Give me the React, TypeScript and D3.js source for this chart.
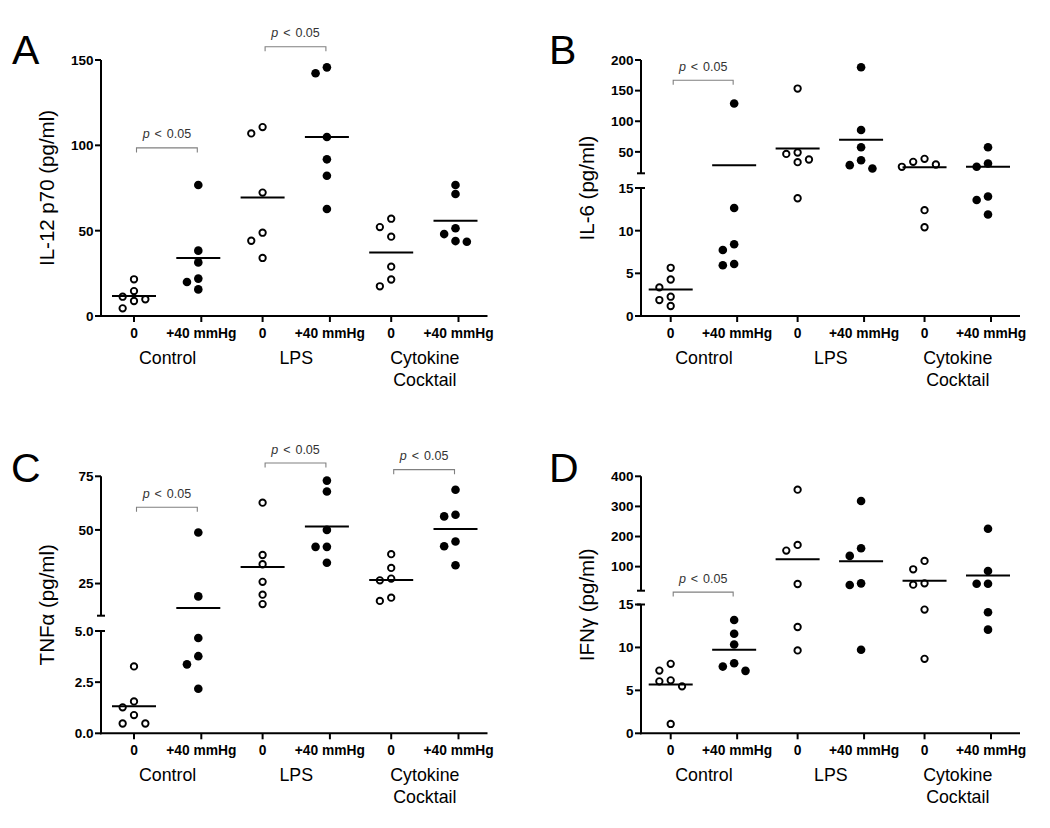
import React from "react";
import * as d3 from "d3";

// ---------- categories & labels ----------
const conditions = ["0", "+40 mmHg"];
const groupLabels = [["Control"], ["LPS"], ["Cytokine", "Cocktail"]];
const pLabel = "< 0.05";

// ---------- Panel A: IL-12 p70 (pg/ml) ----------
const il12Control0 = [21.5, 14.6, 11.3, 9.8, 8.8, 4.5];
const il12Control40 = [76.8, 38.3, 31.4, 21.9, 19.9, 15.6];
const il12Lps0 = [110.7, 107.0, 72.3, 48.8, 44.1, 34.0];
const il12Lps40 = [145.7, 142.2, 104.9, 91.8, 82.2, 62.7];
const il12Cyto0 = [57.0, 52.1, 46.5, 28.9, 21.4, 17.4];
const il12Cyto40 = [76.8, 71.5, 51.4, 48.0, 43.9, 43.5];
const il12Ticks = [0, 50, 100, 150];
const il12Brackets = [{ group: 0, level: 98.5 }, { group: 1, level: 157.8 }];

// ---------- Panel B: IL-6 (pg/ml) ----------
const il6Control0 = [5.65, 4.28, 3.35, 2.26, 1.87, 1.17];
const il6Control40 = [129, 12.65, 8.4, 7.74, 6.1, 5.95];
const il6Lps0 = [153.4, 48.9, 46.7, 37.5, 33.2, 13.8];
const il6Lps40 = [188.1, 85.7, 57.5, 36.4, 28.3, 22.9];
const il6Cyto0 = [38.6, 33.7, 29.4, 25.6, 12.4, 10.4];
const il6Cyto40 = [57.5, 31.0, 25.6, 14.0, 13.6, 11.9];
const il6LowerTicks = [0, 5, 10, 15];
const il6UpperTicks = [50, 100, 150, 200];
const il6Brackets = [{ group: 0, level: 167 }];

// ---------- Panel C: TNFα (pg/ml) ----------
const tnfControl0 = [3.27, 1.56, 1.27, 0.89, 0.48, 0.48];
const tnfControl40 = [48.8, 19.0, 4.66, 3.77, 3.37, 2.18];
const tnfLps0 = [62.7, 38.3, 34.0, 25.8, 19.8, 15.4];
const tnfLps40 = [73.0, 67.9, 50.0, 42.1, 42.1, 34.7];
const tnfCyto0 = [38.7, 32.3, 27.3, 26.5, 18.4, 16.9];
const tnfCyto40 = [68.7, 57.1, 56.3, 44.6, 42.4, 33.5];
const tnfLowerTicks = [0, 2.5, 5];
const tnfUpperTicks = [25, 50, 75];
const tnfBrackets = [
  { group: 0, level: 60.6 },
  { group: 1, level: 81.2 },
  { group: 2, level: 78.1 },
];

// ---------- Panel D: IFNγ (pg/ml) ----------
const ifnControl0 = [8.09, 7.3, 6.17, 6.05, 5.47, 1.09];
const ifnControl40 = [13.2, 11.6, 10.35, 8.16, 7.77, 7.27];
const ifnLps0 = [355.6, 172.2, 153.3, 42.2, 12.38, 9.65];
const ifnLps40 = [317.8, 161.1, 135.6, 44.4, 38.9, 9.73];
const ifnCyto0 = [118.9, 91.1, 44.4, 40.0, 14.41, 8.67];
const ifnCyto40 = [225.6, 85.6, 43.3, 43.3, 14.1, 12.07];
const ifnLowerTicks = [0, 5, 10, 15];
const ifnUpperTicks = [100, 200, 300, 400];
const ifnBrackets = [{ group: 0, level: 19.5 }];

// ---------- styles ----------
const FONT = "'Liberation Sans', Arial, Helvetica, sans-serif";
const DOT_R_OPEN = 3.2;
const DOT_R_FILLED = 4.3;
const SWARM_UNIT = 5.67;
const SWARM_MIN = 8.6;
const MEAN_HALF = 22;
const TICK_LEN = 6;

type Seg = {
  domain: [number, number];
  range: [number, number];
  ticks: number[];
  fmt: (v: number) => string;
};

type PanelProps = {
  letter: string;
  letterX: number;
  letterY: number;
  axisX: number;
  y0: number;
  colRange: [number, number];
  segs: Seg[];
  series: number[][];
  brackets: { group: number; level: number }[];
  ylabel: React.ReactNode;
};

function swarmOffsets(ys: number[]): number[] {
  const placed: { x: number; y: number }[] = [];
  const cands = [0, -2, 2, -1, 1, -3, 3, -4, 4, -5, 5];
  return ys.map((y) => {
    let chosen = 0;
    for (const c of cands) {
      const x = c * SWARM_UNIT;
      if (placed.every((p) => Math.hypot(p.x - x, p.y - y) >= SWARM_MIN)) {
        chosen = x;
        break;
      }
    }
    placed.push({ x: chosen, y });
    return chosen;
  });
}

function Panel(props: PanelProps) {
  const { letter, letterX, letterY, axisX, y0, colRange, segs, series, brackets, ylabel } = props;
  const cols = d3.scalePoint<number>().domain(d3.range(6)).range(colRange);
  const scales = segs.map((s) => d3.scaleLinear().domain(s.domain).range(s.range));
  const y = (v: number) => {
    if (segs.length === 1) return scales[0](v);
    const lo = segs[0], up = segs[1];
    if (v <= lo.domain[1]) return scales[0](v);
    if (v >= up.domain[0]) return scales[1](v);
    const t = (v - lo.domain[1]) / (up.domain[0] - lo.domain[1]);
    return d3.interpolateNumber(lo.range[1], up.range[0])(t);
  };
  const xEnd = colRange[1] + 32;
  const tickShift = (i: number) => (i % 2 === 1 ? 3 : 0);
  const tickX = (i: number) => (cols(i) as number) + tickShift(i);
  const yTop = segs[segs.length - 1].range[1];
  const ylabelY = (yTop + y0) / 2;

  return (
    <g>
      <text x={letterX} y={letterY} fontSize={41} fontFamily={FONT} fill="#000">
        {letter}
      </text>
      {/* y-axis label */}
      <text
        transform={`translate(${axisX - 47},${ylabelY}) rotate(-90)`}
        textAnchor="middle"
        fontSize={20.5}
        fontFamily={FONT}
        fill="#000"
      >
        {ylabel}
      </text>
      {/* y-axis segments */}
      {segs.map((s, si) => (
        <g key={"seg" + si}>
          <line x1={axisX} x2={axisX} y1={s.range[0] + (si === 0 ? 1 : 0)} y2={s.range[1]} stroke="#000" strokeWidth={2} />
          {segs.length > 1 && si === 0 && (
            <line x1={axisX - 4} x2={axisX + 4} y1={s.range[1]} y2={s.range[1]} stroke="#000" strokeWidth={2} />
          )}
          {segs.length > 1 && si === 1 && (
            <line x1={axisX - 4} x2={axisX + 4} y1={s.range[0]} y2={s.range[0]} stroke="#000" strokeWidth={2} />
          )}
          {s.ticks.map((t) => (
            <g key={t}>
              <line x1={axisX - TICK_LEN} x2={axisX} y1={scales[si](t)} y2={scales[si](t)} stroke="#000" strokeWidth={2} />
              <text
                x={axisX - TICK_LEN - 1.5}
                y={scales[si](t)}
                dy="0.36em"
                textAnchor="end"
                fontSize={13.5}
                fontWeight="bold"
                fontFamily={FONT}
                fill="#000"
              >
                {s.fmt(t)}
              </text>
            </g>
          ))}
        </g>
      ))}
      {/* x-axis */}
      <line x1={axisX - 1} x2={xEnd} y1={y0} y2={y0} stroke="#000" strokeWidth={2} />
      {d3.range(6).map((i) => (
        <g key={"xt" + i}>
          <line x1={tickX(i)} x2={tickX(i)} y1={y0} y2={y0 + TICK_LEN} stroke="#000" strokeWidth={2} />
          <text
            x={tickX(i)}
            y={y0 + 22}
            textAnchor="middle"
            fontSize={13.8}
            fontWeight="bold"
            fontFamily={FONT}
            fill="#000"
          >
            {conditions[i % 2]}
          </text>
        </g>
      ))}
      {groupLabels.map((lines, g) => (
        <text
          key={"gl" + g}
          x={(tickX(2 * g) + tickX(2 * g + 1)) / 2}
          y={y0 + 48}
          textAnchor="middle"
          fontSize={17.8}
          fontFamily={FONT}
          fill="#000"
        >
          {lines.map((l, li) => (
            <tspan key={li} x={(tickX(2 * g) + tickX(2 * g + 1)) / 2} dy={li === 0 ? 0 : 22}>
              {l}
            </tspan>
          ))}
        </text>
      ))}
      {/* data */}
      {series.map((vals, i) => {
        const cx = cols(i) as number;
        const ys = vals.map((v) => y(v));
        const offs = swarmOffsets(ys);
        const filled = i % 2 === 1;
        const m = d3.mean(vals) as number;
        return (
          <g key={"s" + i}>
            {vals.map((v, k) =>
              filled ? (
                <circle key={k} cx={cx + offs[k]} cy={ys[k]} r={DOT_R_FILLED} fill="#000" />
              ) : (
                <circle key={k} cx={cx + offs[k]} cy={ys[k]} r={DOT_R_OPEN} fill="#fff" stroke="#000" strokeWidth={1.9} />
              )
            )}
            <line x1={cx - MEAN_HALF} x2={cx + MEAN_HALF} y1={y(m)} y2={y(m)} stroke="#000" strokeWidth={2} />
          </g>
        );
      })}
      {/* significance brackets */}
      {brackets.map((b, k) => {
        const xl = (cols(2 * b.group) as number) + 2.5;
        const xr = (cols(2 * b.group + 1) as number) - 1;
        const yb = y(b.level);
        return (
          <g key={"br" + k}>
            <path
              d={`M${xl},${yb + 4.5}V${yb}H${xr}V${yb + 4.5}`}
              fill="none"
              stroke="#808080"
              strokeWidth={1.1}
            />
            <text
              x={(xl + xr) / 2}
              y={yb - 9.5}
              textAnchor="middle"
              fontSize={12.5}
              wordSpacing={1.5}
              fontFamily={FONT}
              fill="#333"
            >
              <tspan fontStyle="italic">p</tspan>
              {" " + pLabel}
            </text>
          </g>
        );
      })}
    </g>
  );
}

const intFmt = (v: number) => String(v);
const oneDec = (v: number) => v.toFixed(1);

export default function App() {
  return (
    <svg
      width={1050}
      height={828}
      viewBox="0 0 1050 828"
      style={{ position: "absolute", left: 0, top: 0, background: "#fff" }}
    >
      <rect width={1050} height={828} fill="#fff" />
      <Panel
        letter="A"
        letterX={12}
        letterY={64}
        axisX={101}
        y0={316}
        colRange={[134, 455.5]}
        segs={[{ domain: [0, 150], range: [316, 60], ticks: il12Ticks, fmt: intFmt }]}
        series={[il12Control0, il12Control40, il12Lps0, il12Lps40, il12Cyto0, il12Cyto40]}
        brackets={il12Brackets}
        ylabel="IL-12 p70 (pg/ml)"
      />
      <Panel
        letter="B"
        letterX={549}
        letterY={64}
        axisX={641}
        y0={316}
        colRange={[670.7, 988]}
        segs={[
          { domain: [0, 15], range: [316, 188], ticks: il6LowerTicks, fmt: intFmt },
          { domain: [15, 200], range: [173.3, 60], ticks: il6UpperTicks, fmt: intFmt },
        ]}
        series={[il6Control0, il6Control40, il6Lps0, il6Lps40, il6Cyto0, il6Cyto40]}
        brackets={il6Brackets}
        ylabel="IL-6 (pg/ml)"
      />
      <Panel
        letter="C"
        letterX={11}
        letterY={482}
        axisX={101}
        y0={733.3}
        colRange={[134, 455.5]}
        segs={[
          { domain: [0, 5], range: [733.3, 631], ticks: tnfLowerTicks, fmt: oneDec },
          { domain: [10, 75], range: [615.7, 476.3], ticks: tnfUpperTicks, fmt: intFmt },
        ]}
        series={[tnfControl0, tnfControl40, tnfLps0, tnfLps40, tnfCyto0, tnfCyto40]}
        brackets={tnfBrackets}
        ylabel="TNFα (pg/ml)"
      />
      <Panel
        letter="D"
        letterX={549}
        letterY={482}
        axisX={641}
        y0={733.3}
        colRange={[670.7, 988]}
        segs={[
          { domain: [0, 15], range: [733.3, 604.5], ticks: ifnLowerTicks, fmt: intFmt },
          { domain: [20, 400], range: [590.7, 476.3], ticks: ifnUpperTicks, fmt: intFmt },
        ]}
        series={[ifnControl0, ifnControl40, ifnLps0, ifnLps40, ifnCyto0, ifnCyto40]}
        brackets={ifnBrackets}
        ylabel="IFNγ (pg/ml)"
      />
    </svg>
  );
}
